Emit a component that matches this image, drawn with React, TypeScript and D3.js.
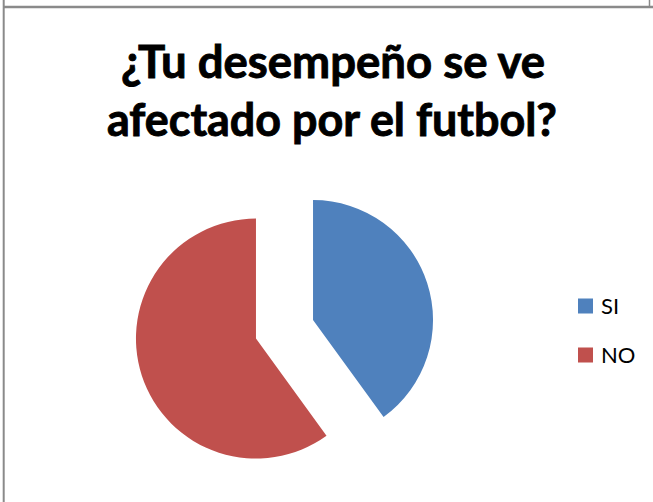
import React from "react";
import * as d3 from "d3";

const categories = ["SI", "NO"];
const values = [40, 60];
const colors = ["#4F81BD", "#C0504D"];
const titleLines = ["¿Tu desempeño se ve", "afectado por el futbol?"];

const W = 653;
const H = 502;

export default function App() {
  const cx = 284.5;
  const cy = 329.3;
  const r = 120;
  const explode = 30;

  const pie = d3.pie<number>().sort(null).value((d) => d);
  const arcs = pie(values);
  const arcGen = d3.arc<d3.PieArcDatum<number>>().innerRadius(0).outerRadius(r);

  return (
    <svg
      width={W}
      height={H}
      style={{ position: "absolute", left: 0, top: 0, background: "#fff" }}
      fontFamily="Lato, 'Open Sans', sans-serif"
    >
      <rect x={0} y={0} width={W} height={H} fill="#fff" />
      {/* frame lines */}
      <line x1={3} y1={7} x2={W} y2={7} stroke="#8a8a8a" strokeWidth={2.5} />
      <line x1={3.7} y1={0} x2={3.7} y2={H} stroke="#8a8a8a" strokeWidth={2} />
      <line x1={649.5} y1={0} x2={649.5} y2={7} stroke="#8a8a8a" strokeWidth={1.5} />

      {/* title */}
      <text
        x={333}
        y={78}
        textAnchor="middle"
        fontWeight="bold"
        fontSize={46}
        fill="#000"
        stroke="#000"
        strokeWidth={0.9}
        textLength={424}
        lengthAdjust="spacingAndGlyphs"
      >
        {titleLines[0]}
      </text>
      <text
        x={332}
        y={136}
        textAnchor="middle"
        fontWeight="bold"
        fontSize={46}
        fill="#000"
        stroke="#000"
        strokeWidth={0.9}
        textLength={450}
        lengthAdjust="spacingAndGlyphs"
      >
        {titleLines[1]}
      </text>

      {/* pie */}
      {arcs.map((a, i) => {
        const mid = (a.startAngle + a.endAngle) / 2;
        const dx = Math.sin(mid) * explode;
        const dy = -Math.cos(mid) * explode;
        return (
          <path
            key={categories[i]}
            d={arcGen(a) || ""}
            transform={`translate(${cx + dx},${cy + dy})`}
            fill={colors[i]}
          />
        );
      })}

      {/* legend */}
      {categories.map((c, i) => {
        const y = 306 + i * 49;
        return (
          <g key={c}>
            <rect x={578} y={y - 7.5} width={15} height={15} fill={colors[i]} />
            <text x={601} y={y + 8} fontSize={22} fill="#000">
              {c}
            </text>
          </g>
        );
      })}
    </svg>
  );
}
